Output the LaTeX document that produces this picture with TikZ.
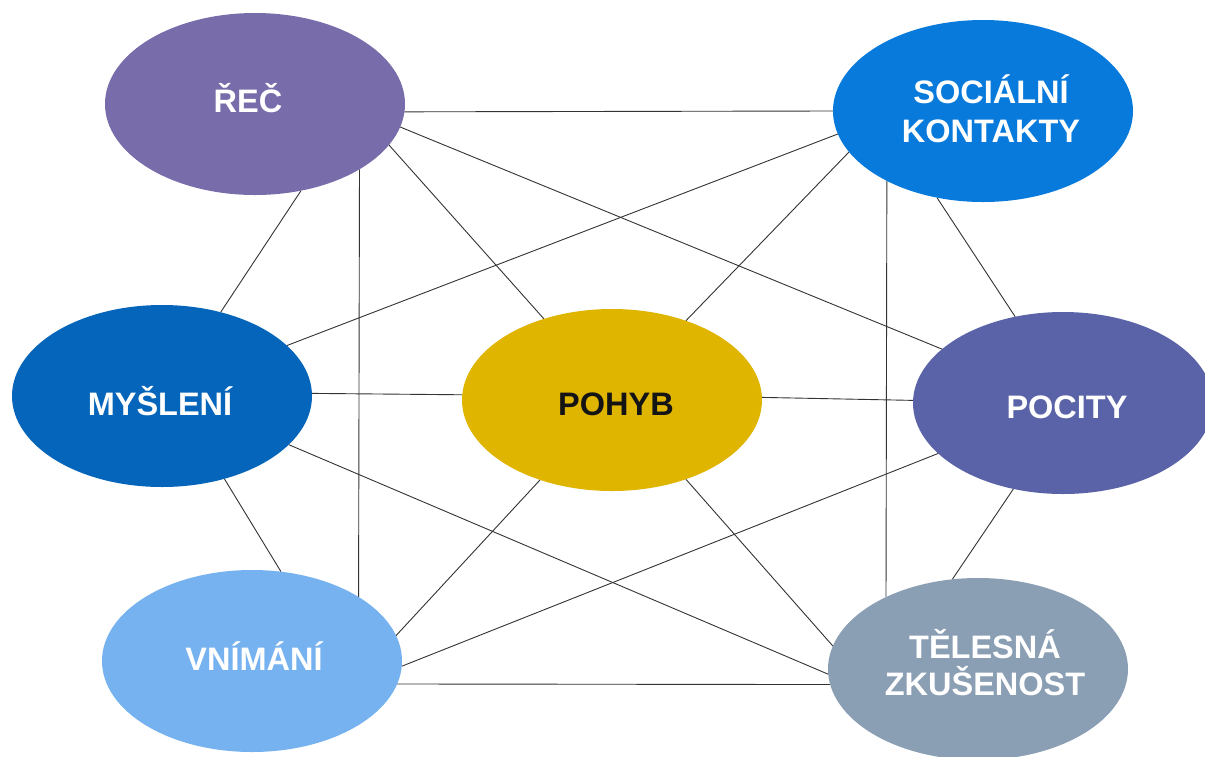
\documentclass[tikz,border=0pt]{standalone}
\usepackage{fontspec}
\setmainfont{Liberation Sans}
\usetikzlibrary{shapes.geometric,backgrounds}
\definecolor{cRec}{HTML}{786CAA}
\definecolor{cSoc}{HTML}{087ADC}
\definecolor{cMys}{HTML}{0565BA}
\definecolor{cPoh}{HTML}{E0B500}
\definecolor{cPoc}{HTML}{5A63A8}
\definecolor{cVni}{HTML}{76B2F0}
\definecolor{cTel}{HTML}{8A9EB4}
\definecolor{cDark}{HTML}{141414}
\begin{document}
\begin{tikzpicture}[x=1pt,y=-1pt,
  bubble/.style={ellipse, minimum width=300pt, minimum height=182pt, inner sep=0pt, outer sep=0pt},
  lbl/.style={anchor=base, font=\bfseries\fontsize{32.5}{38}\selectfont, text=white, inner sep=0pt},
  link/.style={line width=0.9pt, draw=black!80}]
\useasboundingbox (0,0) rectangle (1205,756);

% ellipses
\node[bubble, fill=cRec] (rec) at (255,104) {};
\node[bubble, fill=cSoc] (soc) at (983,111) {};
\node[bubble, fill=cMys] (mys) at (162,396) {};
\node[bubble, fill=cPoh] (poh) at (612,400) {};
\node[bubble, fill=cPoc] (poc) at (1063,403) {};
\node[bubble, fill=cVni] (vni) at (252,661) {};
\node[bubble, fill=cTel] (tel) at (978,669) {};

% labels
\node[lbl] (trec) at (248,112) {ŘEČ};
\node[lbl] (tsoc1) at (991,103) {SOCIÁLNÍ};
\node[lbl] (tsoc2) at (991,142) {KONTAKTY};
\node[lbl] (tmys) at (160,415) {MYŠLENÍ};
\node[lbl, text=cDark] (tpoh) at (616,415) {POHYB};
\node[lbl] (tpoc) at (1067,418) {POCITY};
\node[lbl] (tvni) at (254,670) {VNÍMÁNÍ};
\node[lbl] (ttel1) at (985,658) {TĚLESNÁ};
\node[lbl] (ttel2) at (985,695) {ZKUŠENOST};

\begin{scope}[on background layer]
\fill[white] (0,0) rectangle (1205,756);
% connectors
\draw[link] (rec.-3) -- (soc.180);
\draw[link] (rec.-9) -- (poc.156);
\draw[link] (rec.-17) -- (poh.130);
\draw[link] (rec.-32) -- (vni.31);
\draw[link] (rec.-62) -- (mys.55);
\draw[link] (soc.189) -- (mys.22);
\draw[link] (soc.197) -- (poh.47);
\draw[link] (soc.216) -- (tel.142);
\draw[link] (soc.242) -- (poc.119);
\draw[link] (mys.1) -- (poh.178);
\draw[link] (mys.-21) -- (tel.182);
\draw[link] (mys.-53) -- (vni.72);
\draw[link] (poh.1) -- (poc.179);
\draw[link] (poh.228) -- (vni.10);
\draw[link] (poh.-47) -- (tel.171);
\draw[link] (poc.202) -- (vni.-2);
\draw[link] (poc.240) -- (tel.106);
\draw[link] (vni.-9) -- (tel.186);
\end{scope}
\end{tikzpicture}
\end{document}
